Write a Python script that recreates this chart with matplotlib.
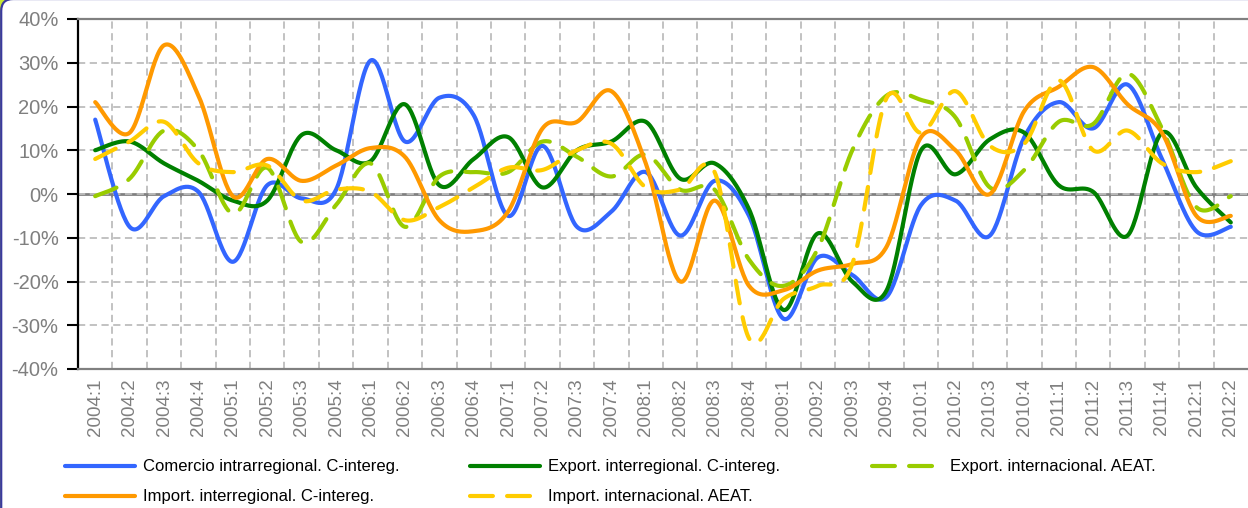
import numpy as np
import matplotlib
matplotlib.use("Agg")
import matplotlib.pyplot as plt
from matplotlib.lines import Line2D
from matplotlib.patches import FancyBboxPatch
from matplotlib.transforms import IdentityTransform

plt.rcParams['font.family'] = ['Liberation Sans', 'DejaVu Sans']

periods = ["2004:1", "2004:2", "2004:3", "2004:4", "2005:1", "2005:2", "2005:3", "2005:4",
           "2006:1", "2006:2", "2006:3", "2006:4", "2007:1", "2007:2", "2007:3", "2007:4",
           "2008:1", "2008:2", "2008:3", "2008:4", "2009:1", "2009:2", "2009:3", "2009:4",
           "2010:1", "2010:2", "2010:3", "2010:4", "2011:1", "2011:2", "2011:3", "2011:4",
           "2012:1", "2012:2"]

comercio_intra = [17, -7.5, -0.5, 0.5, -15.5, 2, -1, 1, 30.5, 12, 22, 18, -5, 11, -7.5, -4,
                  5, -9.5, 3, -5, -28.5, -14.5, -18.5, -23.5, -2.5, -1.5, -9.5, 13, 21, 15,
                  25, 8, -8.5, -7.5]
export_inter = [10, 12, 7, 3, -1.5, -1.5, 13.5, 10, 7.5, 20.5, 2, 8, 13, 1.5, 10, 12,
                16.5, 3.5, 7, -3.5, -26.5, -9, -20, -22, 10, 4.5, 12.5, 14, 2, 0.5,
                -9.5, 14, 1.5, -6.5]
export_intl = [-0.5, 3.5, 14.5, 10, -4.5, 6, -11, -2.5, 7, -7.5, 4, 5, 5, 12, 8.5, 4,
               9, 1, 1, -15, -21, -12.5, 10, 22.5, 21.5, 17.5, 1.5, 5.5, 16.5, 16,
               27.5, 15, -3, -0.5]
import_inter = [21, 14, 34, 22.5, -0.5, 8, 3, 6.5, 10.5, 8.5, -6, -8.5, -4, 15, 16.5, 23.5,
                7, -20, -1.5, -21, -22, -17.5, -16, -12, 13, 10, 0, 19, 24.5, 29,
                20.5, 14, -5, -5]
import_intl = [8, 12, 16.5, 7, 5, 6.5, -1.5, 1, 0.5, -6, -3, 1.5, 6, 5.5, 10, 11.5,
               1.5, 1, 5, -33, -24, -21, -16, 22, 14, 23.5, 11, 11.5, 26, 10,
               14.5, 7, 5, 7.5]

labels = ["Comercio intrarregional. C-intereg.",
          "Export. interregional. C-intereg.",
          "Export. internacional. AEAT.",
          "Import. interregional. C-intereg.",
          "Import. internacional. AEAT."]
series = [comercio_intra, export_inter, export_intl, import_inter, import_intl]
colors = ["#3366FF", "#008000", "#99CC00", "#FF9900", "#FFCC00"]
dashed = [False, False, True, False, True]


def smooth(values, n=30):
    """Excel-like smoothed line (Catmull-Rom through the data points)."""
    y = np.asarray(values, float)
    x = np.arange(len(y), dtype=float)
    P = np.column_stack([x, y])
    P = np.vstack([P[0], P, P[-1]])
    out = []
    m = len(y) - 1
    for i in range(m):
        p0, p1, p2, p3 = P[i], P[i + 1], P[i + 2], P[i + 3]
        c1 = p1 + (p2 - p0) / 6.0
        c2 = p2 - (p3 - p1) / 6.0
        t = np.linspace(0, 1, n, endpoint=(i == m - 1))[:, None]
        b = ((1 - t) ** 3) * p1 + 3 * ((1 - t) ** 2) * t * c1 + 3 * (1 - t) * t ** 2 * c2 + t ** 3 * p2
        out.append(b)
    out = np.vstack(out)
    return out[:, 0], out[:, 1]


W, H = 1248, 508
fig = plt.figure(figsize=(W / 100, H / 100), dpi=100)
fig.patch.set_facecolor('#C8E632')

frame = FancyBboxPatch((1.2, -60), W + 100, H + 60 + 1, boxstyle="round,pad=0,rounding_size=12",
                       transform=IdentityTransform(), facecolor='white',
                       edgecolor='#3A3A9E', linewidth=1.6, zorder=-10)
fig.add_artist(frame)

ax = fig.add_axes([78 / W, 1 - 369 / H, 1 - 78 / W, (369 - 19) / H])
ax.set_facecolor('none')
ax.set_xlim(-0.5, len(periods) - 0.5)
ax.set_ylim(-40, 40)

# grid
ax.set_xticks(np.arange(len(periods)))
ax.set_xticklabels(periods, rotation=90, color='#7F7F7F', fontsize=13.5)
ax.set_xticks(np.arange(0.5, len(periods) - 1, 1), minor=True)
ax.tick_params(axis='x', which='both', length=0, pad=7)
ax.set_yticks(np.arange(-40, 41, 10))
ax.set_yticklabels([f"{v}%" for v in range(-40, 41, 10)], color='#7F7F7F', fontsize=14.5)
ax.tick_params(axis='y', direction='out', length=8, width=1.5, color='black', pad=6)
ax.grid(which='minor', axis='x', color='#BDBDBD', linestyle=(0, (4, 2.5)), linewidth=1.3)
ax.grid(which='major', axis='y', color='#BDBDBD', linestyle=(0, (4, 2.5)), linewidth=1.3)
ax.grid(which='major', axis='x', visible=False)
ax.set_axisbelow(True)

for s in ['top', 'bottom']:
    ax.spines[s].set_color('#808080')
    ax.spines[s].set_linewidth(1.6)
ax.spines['left'].set_color('black')
ax.spines['left'].set_linewidth(1.6)
ax.spines['right'].set_visible(False)

# category axis crossing at zero
sec = ax.secondary_xaxis(0.49999)
sec.set_xticks(np.arange(0.5, len(periods) - 1, 1))
sec.set_xticklabels([])
sec.tick_params(direction='out', length=4, width=1.3, color='#808080')
for s in sec.spines.values():
    s.set_color('#808080')
    s.set_linewidth(2)

for vals, col, dsh in zip(series, colors, dashed):
    xs, ys = smooth(vals)
    if dsh:
        ax.plot(xs, ys, color=col, lw=3, dashes=(5.5, 3.4), dash_capstyle='round', zorder=3)
    else:
        ax.plot(xs, ys, color=col, lw=3, solid_capstyle='round', zorder=3)

# legend (manual layout)
leg_pos = [(65, 466), (470, 466), (872, 466), (65, 496), (470, 496)]
for (px, py), lab, col, dsh in zip(leg_pos, labels, colors, dashed):
    yf = 1 - py / H
    kw = dict(color=col, lw=3, transform=fig.transFigure)
    if dsh:
        ln = Line2D([px / W, (px + 68) / W], [yf, yf], dashes=(5.5, 3.4), dash_capstyle='round', **kw)
    else:
        ln = Line2D([px / W, (px + 70) / W], [yf, yf], solid_capstyle='round', **kw)
    fig.add_artist(ln)
    fig.text((px + 78) / W, yf, lab, va='center', ha='left', fontsize=12, color='black')

fig.savefig('out.png', dpi=100, facecolor=fig.get_facecolor())
